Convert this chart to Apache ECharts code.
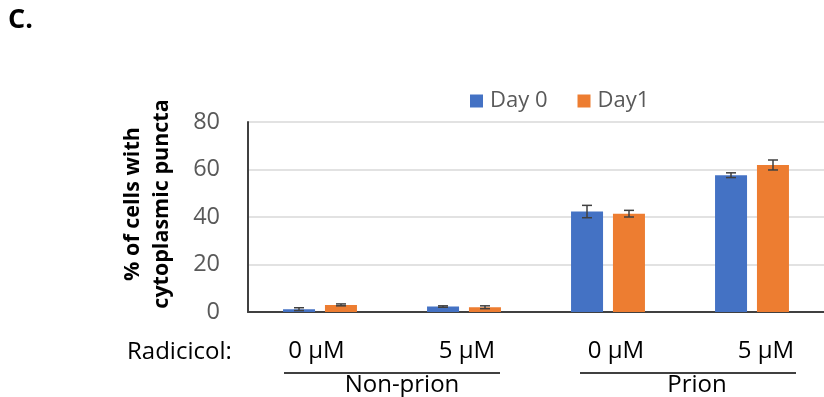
<!DOCTYPE html>
<html>
<head>
<meta charset="utf-8">
<script src="https://cdn.jsdelivr.net/npm/echarts@6/dist/echarts.min.js"></script>
<style>
html,body{margin:0;padding:0;background:#fff;}
#chart{width:824px;height:397px;}
</style>
</head>
<body>
<div id="chart"></div>
<script>
var categories = ['0 µM', '5 µM', '0 µM', '5 µM'];
var groups = ['Non-prion', 'Prion'];
var seriesNames = ['Day 0', 'Day1'];
var day0 = [1.2, 2.3, 42.3, 57.6];
var day0Err = [0.6, 0.3, 2.6, 1.0];
var day1 = [3.0, 2.0, 41.4, 61.9];
var day1Err = [0.4, 0.6, 1.4, 2.1];
var yTicks = [0, 20, 40, 60, 80];
var colors = ['#4472C4', '#ED7D31'];

var FONT = '"Open Sans", Lato, sans-serif';
var chart = echarts.init(document.getElementById('chart'));

function errSeries(vals, errs, offset) {
  return {
    type: 'custom',
    z: 10,
    silent: true,
    data: vals.map(function (v, i) { return [i, v - errs[i], v + errs[i]]; }),
    renderItem: function (params, api) {
      var lo = api.coord([api.value(0), api.value(1)]);
      var hi = api.coord([api.value(0), api.value(2)]);
      var x = lo[0] + offset;
      var cap = 5;
      var st = { stroke: '#404040', lineWidth: 1.5 };
      return {
        type: 'group',
        children: [
          { type: 'line', shape: { x1: x, y1: lo[1], x2: x, y2: hi[1] }, style: st },
          { type: 'line', shape: { x1: x - cap, y1: lo[1], x2: x + cap, y2: lo[1] }, style: st },
          { type: 'line', shape: { x1: x - cap, y1: hi[1], x2: x + cap, y2: hi[1] }, style: st }
        ]
      };
    }
  };
}

// small per-label horizontal nudges (px) to mimic the reference placement
var labelShift = [-3.5, 3, 8, 14];
var rich = {};
labelShift.forEach(function (d, i) {
  rich['s' + i] = {
    fontSize: 24, color: '#000', fontFamily: FONT,
    padding: d >= 0 ? [0, 0, 0, 2 * d] : [0, -2 * d, 0, 0]
  };
});

chart.setOption({
  animation: false,
  textStyle: { fontFamily: FONT },
  grid: { left: 248, right: -7, top: 122, bottom: 85, containLabel: false },
  legend: {
    data: seriesNames,
    left: 470, top: 90, padding: 0,
    itemWidth: 13, itemHeight: 13, itemGap: 30,
    icon: 'rect',
    textStyle: { fontSize: 22, color: '#595959', fontFamily: FONT, padding: [0, 0, 0, 2] }
  },
  xAxis: {
    type: 'category',
    data: categories,
    axisLine: { lineStyle: { color: '#404040', width: 2 } },
    axisTick: { show: false },
    axisLabel: {
      interval: 0, hideOverlap: false,
      fontSize: 24, color: '#000', margin: 27, fontFamily: FONT,
      formatter: function (v, i) { return '{s' + i + '|' + v + '}'; },
      rich: rich
    }
  },
  yAxis: {
    type: 'value',
    min: 0, max: 80, interval: 20,
    name: '% of cells with\ncytoplasmic puncta',
    nameLocation: 'middle',
    nameRotate: 90,
    nameGap: 72,
    nameTextStyle: { fontSize: 21.5, fontWeight: 'bold', color: '#000', lineHeight: 29, fontFamily: FONT, padding: [0, 0, 0, 26] },
    axisLine: { show: true, lineStyle: { color: '#404040', width: 2 } },
    axisTick: { show: false },
    splitLine: { lineStyle: { color: '#d9d9d9', width: 1.5 } },
    axisLabel: { fontSize: 23.5, color: '#595959', margin: 28, fontFamily: FONT,
      formatter: function (v) { return yTicks.indexOf(v) >= 0 ? String(v) : ''; } }
  },
  series: [
    { name: seriesNames[0], type: 'bar', data: day0, barWidth: 32, barGap: '31%', itemStyle: { color: colors[0] } },
    { name: seriesNames[1], type: 'bar', data: day1, barWidth: 32, barGap: '31%', itemStyle: { color: colors[1] } },
    errSeries(day0, day0Err, -21),
    errSeries(day1, day1Err, 21)
  ],
  graphic: [
    { type: 'text', left: 8, top: 7, style: { text: 'C.', font: 'bold 27px ' + FONT, fill: '#000' } },
    { type: 'text', x: 127, y: 352, style: { text: 'Radicicol:', font: '24px ' + FONT, fill: '#000', textVerticalAlign: 'middle' } },
    { type: 'line', shape: { x1: 284, y1: 373, x2: 500, y2: 373 }, style: { stroke: '#000', lineWidth: 1.5 } },
    { type: 'line', shape: { x1: 580, y1: 373, x2: 796, y2: 373 }, style: { stroke: '#000', lineWidth: 1.5 } },
    { type: 'text', x: 402, y: 385, style: { text: groups[0], font: '24px ' + FONT, fill: '#000', textAlign: 'center', textVerticalAlign: 'middle' } },
    { type: 'text', x: 697, y: 385, style: { text: groups[1], font: '24px ' + FONT, fill: '#000', textAlign: 'center', textVerticalAlign: 'middle' } }
  ]
});
</script>
</body>
</html>
